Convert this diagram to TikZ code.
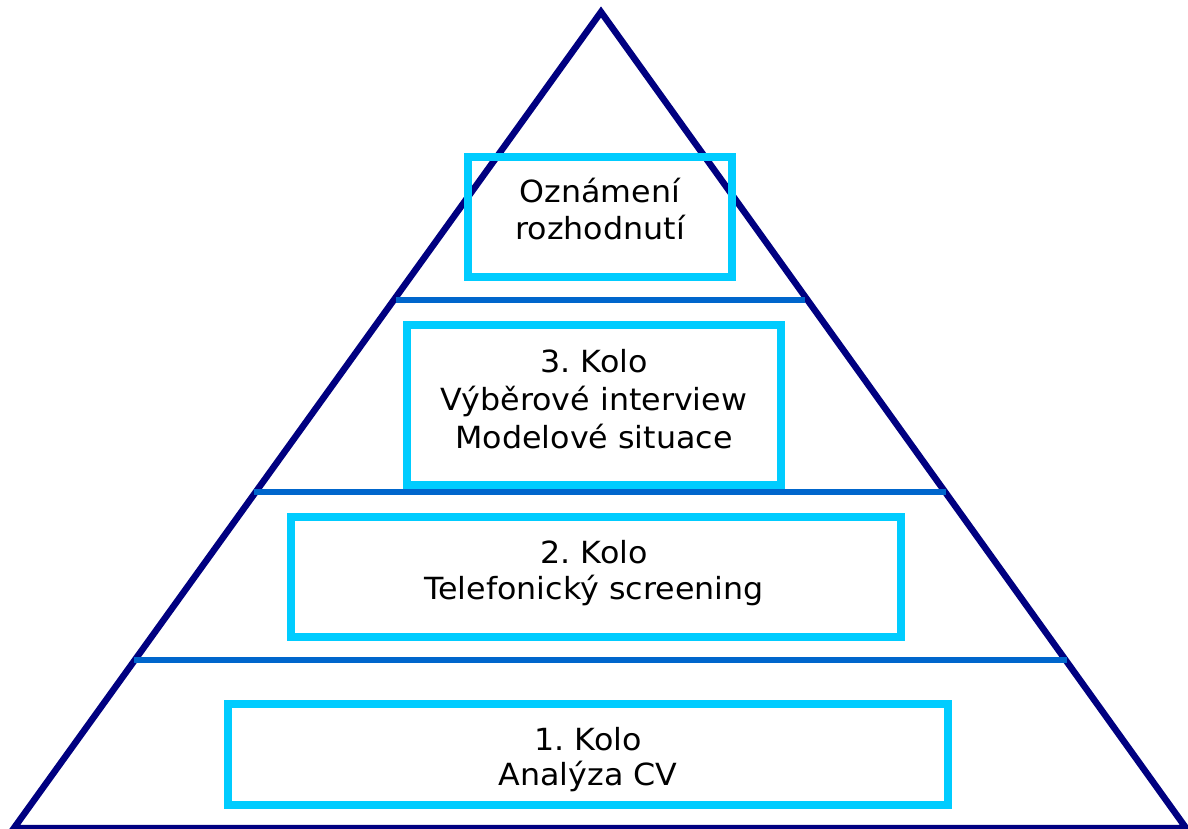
\documentclass[tikz,border=0pt]{standalone}
\usepackage{fontspec}
\setmainfont{DejaVu Sans}[FakeStretch=1.04]
\frenchspacing
\definecolor{pyrnavy}{HTML}{000080}
\definecolor{tierblue}{HTML}{0066CC}
\definecolor{boxcyan}{HTML}{00CCFF}
\begin{document}
\begin{tikzpicture}[x=1pt,y=-1pt,
  edge/.style={draw=pyrnavy,line width=6.5pt,line join=miter},
  tier/.style={draw=tierblue,line width=5.5pt},
  stagebox/.style={draw=boxcyan,line width=8pt},
  lbl/.style={anchor=base,inner sep=0pt,font=\fontsize{30.5}{36}\selectfont,text=black}]
  \useasboundingbox (0,0) rectangle (1188,828);
  % pyramid outline
  \coordinate (apex) at (601,12);
  \coordinate (bl) at (14,828);
  \coordinate (br) at (1186,828);
  \draw[edge] (bl) -- (apex) -- (br) -- cycle;
  % tier separators
  \coordinate (s1l) at (396,300);  \coordinate (s1r) at (805,300);
  \coordinate (s2l) at (254,492);  \coordinate (s2r) at (946,492);
  \coordinate (s3l) at (134,660);  \coordinate (s3r) at (1067,660);
  \draw[tier] (s1l) -- (s1r);
  \draw[tier] (s2l) -- (s2r);
  \draw[tier] (s3l) -- (s3r);
  % stage boxes
  \draw[stagebox] (468,157) rectangle (732,277);
  \draw[stagebox] (407,325) rectangle (780.5,485);
  \draw[stagebox] (291,516.5) rectangle (900.5,637);
  \draw[stagebox] (228,703.5) rectangle (948,805);
  % labels
  \node[lbl] (t1a) at (600,202) {Oznámení};
  \node[lbl] (t1b) at (600,239) {rozhodnutí};
  \node[lbl] (t2a) at (594,372) {3. Kolo};
  \node[lbl] (t2b) at (594,410) {Výběrové interview};
  \node[lbl] (t2c) at (594,448) {Modelové situace};
  \node[lbl] (t3a) at (594,563) {2. Kolo};
  \node[lbl] (t3b) at (594,599) {Telefonický screening};
  \node[lbl] (t4a) at (588,750) {1. Kolo};
  \node[lbl] (t4b) at (588,785) {Analýza CV};
\end{tikzpicture}
\end{document}
